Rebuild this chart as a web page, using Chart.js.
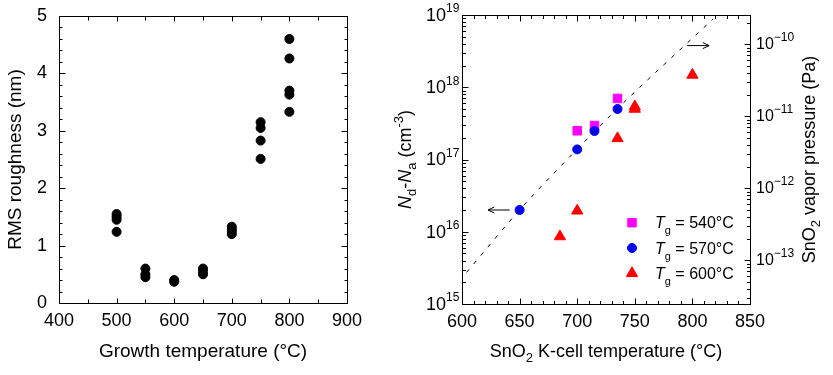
<!DOCTYPE html>
<html>
<head>
<meta charset="utf-8">
<script src="https://cdn.jsdelivr.net/npm/chart.js@4.4.1/dist/chart.umd.min.js"></script>
<style>
  html, body { margin: 0; padding: 0; background: #fff; }
  #wrap { position: relative; width: 833px; height: 375px; }
  canvas { position: absolute; top: 0; }
  #left { left: 0; }
  #right { left: 380px; }
</style>
</head>
<body>
<div id="wrap">
  <canvas id="left" width="380" height="375"></canvas>
  <canvas id="right" width="453" height="375"></canvas>
</div>
<script>
const FONT = "'Liberation Sans', Arial, Helvetica, sans-serif";
Chart.defaults.font.family = FONT;
Chart.defaults.color = '#000';

// left panel: RMS roughness vs growth temperature
const growthTemps  = [500, 500, 500, 500, 550, 550, 550, 600, 600, 650, 650, 650,
                      700, 700, 700, 700, 750, 750, 750, 750, 800, 800, 800, 800, 800];
const rmsRoughness = [1.55, 1.5, 1.45, 1.24, 0.6, 0.5, 0.45, 0.4, 0.37, 0.6, 0.55, 0.5,
                      1.33, 1.28, 1.25, 1.2, 3.15, 3.05, 2.83, 2.51, 4.6, 4.26, 3.7, 3.63, 3.33];
const growthTempTicks = [400, 500, 600, 700, 800, 900];
const roughnessTicks  = [0, 1, 2, 3, 4, 5];

// right panel: carrier density vs SnO2 K-cell temperature
const seriesTg = [540, 570, 600];
const cellTemp540 = [700, 715, 735];
const carrier540  = [2.5e17, 2.95e17, 7.0e17];
const cellTemp570 = [650, 700, 715, 735];
const carrier570  = [2.0e16, 1.38e17, 2.48e17, 5.0e17];
const cellTemp600 = [685, 700, 735, 750, 750, 800];
const carrier600  = [8.6e15, 1.95e16, 1.96e17, 5.0e17, 5.4e17, 1.48e18];
// SnO2 vapour pressure (right axis)
const vaporTemps    = [604, 650, 700, 735, 818];
const vaporPressure = [6.8e-14, 5.0e-13, 3.5e-12, 1.28e-11, 2.25e-10];
const cellTempTicks     = [600, 650, 700, 750, 800, 850];
const carrierExponents  = [15, 16, 17, 18, 19];
const pressureExponents = [-13, -12, -11, -10];

const pts = (xs, ys) => xs.map((x, i) => ({ x: x, y: ys[i] }));

function richText(ctx, parts, x, y, opts) {
  ctx.save();
  ctx.translate(x, y);
  if (opts.rotate) ctx.rotate(opts.rotate);
  const fontOf = p => (p.italic ? 'italic ' : '') + p.size + 'px ' + FONT;
  let w = 0;
  parts.forEach(p => { ctx.font = fontOf(p); p.w = ctx.measureText(p.t).width; w += p.w; });
  let cx = opts.align === 'center' ? -w / 2 : (opts.align === 'right' ? -w : 0);
  ctx.fillStyle = '#000';
  ctx.textAlign = 'left';
  ctx.textBaseline = opts.baseline || 'alphabetic';
  parts.forEach(p => { ctx.font = fontOf(p); ctx.fillText(p.t, cx, p.dy || 0); cx += p.w; });
  ctx.restore();
}

function decadeTicks(exps, min, max) {
  const out = [];
  for (let e = exps[0] - 1; e <= exps[exps.length - 1]; e++) {
    for (let m = 1; m <= 9; m++) {
      const v = m * Math.pow(10, e);
      if (v >= min * 0.999 && v <= max * 1.001) out.push({ value: v, major: m === 1 });
    }
  }
  return out;
}

const markMajor = list => s => { s.ticks.forEach(t => { t.major = list.includes(t.value); }); };

// frame and inward tick marks
const frameTicks = {
  id: 'frameTicks',
  beforeDatasetsDraw(chart, args, opts) {
    const ctx = chart.ctx, a = chart.chartArea;
    const L = Math.round(a.left) + 0.5, R = Math.round(a.right) + 0.5;
    const T = Math.round(a.top) + 0.5, B = Math.round(a.bottom) + 0.5;
    ctx.save();
    ctx.strokeStyle = '#000';
    ctx.lineWidth = 1;
    ctx.strokeRect(L, T, R - L, B - T);
    ctx.beginPath();
    opts.axes.forEach(ax => {
      const s = chart.scales[ax.id];
      s.ticks.forEach(t => {
        const len = t.major ? ax.major : ax.minor;
        if (s.isHorizontal()) {
          const x = Math.round(s.getPixelForValue(t.value)) + 0.5;
          ctx.moveTo(x, B); ctx.lineTo(x, B - len);
          if (ax.mirror) { ctx.moveTo(x, T); ctx.lineTo(x, T + len); }
        } else {
          const y = Math.round(s.getPixelForValue(t.value)) + 0.5;
          if (s.position === 'right') {
            ctx.moveTo(R, y); ctx.lineTo(R - len, y);
          } else {
            ctx.moveTo(L, y); ctx.lineTo(L + len, y);
            if (ax.mirror) { ctx.moveTo(R, y); ctx.lineTo(R - len, y); }
          }
        }
      });
    });
    ctx.stroke();
    ctx.restore();
  }
};

const arrowHeads = {
  id: 'arrowHeads',
  afterDatasetsDraw(chart) {
    const ctx = chart.ctx;
    chart.data.datasets.forEach((ds, i) => {
      if (!ds.arrowHead) return;
      const p = chart.getDatasetMeta(i).data;
      const a = p[p.length - 2], b = p[p.length - 1];
      const ang = Math.atan2(b.y - a.y, b.x - a.x);
      ctx.save();
      ctx.strokeStyle = '#000';
      ctx.lineWidth = 1;
      ctx.beginPath();
      [-1, 1].forEach(sg => {
        ctx.moveTo(b.x, b.y);
        ctx.lineTo(b.x - 7 * Math.cos(ang + sg * 0.45), b.y - 7 * Math.sin(ang + sg * 0.45));
      });
      ctx.stroke();
      ctx.restore();
    });
  }
};

// log-axis labels with superscripts, axis titles, legend
const rightText = {
  id: 'rightText',
  afterDraw(chart) {
    const ctx = chart.ctx, a = chart.chartArea;
    const sy = chart.scales.y, sy2 = chart.scales.y2;
    sy.ticks.forEach(t => {
      const e = Math.round(Math.log10(t.value));
      if (!t.major || !carrierExponents.includes(e)) return;
      const y = sy.getPixelForValue(t.value);
      richText(ctx, [{ t: '10', size: 18 }], a.left - 16, y + 1, { align: 'right', baseline: 'middle' });
      richText(ctx, [{ t: String(e), size: 12 }], a.left - 16, y - 6, { align: 'left', baseline: 'middle' });
    });
    sy2.ticks.forEach(t => {
      const e = Math.round(Math.log10(t.value));
      if (!t.major || !pressureExponents.includes(e)) return;
      const y = sy2.getPixelForValue(t.value);
      ctx.save(); ctx.font = '16px ' + FONT; const w = ctx.measureText('10').width; ctx.restore();
      richText(ctx, [{ t: '10', size: 16 }], a.right + 6, y, { align: 'left', baseline: 'middle' });
      richText(ctx, [{ t: String(e).replace('-', '\u2212'), size: 12 }], a.right + 6 + w, y - 6.5, { align: 'left', baseline: 'middle' });
    });
    const midY = (a.top + a.bottom) / 2;
    richText(ctx, [
      { t: 'SnO', size: 18 }, { t: '2', size: 13, dy: 5 },
      { t: ' K-cell temperature (\u00b0C)', size: 18 }
    ], (a.left + a.right) / 2, 357, { align: 'center' });
    richText(ctx, [
      { t: 'N', size: 18, italic: true }, { t: 'd', size: 13, dy: 5 }, { t: '-', size: 18 },
      { t: 'N', size: 18, italic: true }, { t: 'a', size: 13, dy: 5 }, { t: ' (cm', size: 18 },
      { t: '-3', size: 13, dy: -8 }, { t: ')', size: 18 }
    ], 31, midY, { align: 'center', rotate: -Math.PI / 2 });
    richText(ctx, [
      { t: 'SnO', size: 18 }, { t: '2', size: 13, dy: 5 }, { t: ' vapor pressure (Pa)', size: 18 }
    ], 435, midY, { align: 'center', rotate: -Math.PI / 2 });
    // legend
    [3, 2, 4].forEach((di, k) => {
      const ds = chart.data.datasets[di];
      const y = 222.7 + k * 25.3;
      ctx.save();
      ctx.fillStyle = ds.backgroundColor;
      ctx.strokeStyle = ds.borderColor;
      ctx.lineWidth = 1;
      Chart.helpers.drawPoint(ctx, { pointStyle: ds.pointStyle, radius: ds.pointRadius, rotation: 0, borderWidth: 1 }, 252, y);
      ctx.restore();
      richText(ctx, [
        { t: 'T', size: 16, italic: true }, { t: 'g', size: 11, dy: 6 },
        { t: ' = ' + seriesTg[k] + '\u00b0C', size: 16 }
      ], 275, y + 5.7, { align: 'left' });
    });
  }
};

new Chart(document.getElementById('left'), {
  type: 'scatter',
  data: {
    datasets: [{
      data: pts(growthTemps, rmsRoughness),
      backgroundColor: '#000', borderColor: '#000', borderWidth: 1,
      pointRadius: 4.5, pointHoverRadius: 4.5
    }]
  },
  options: {
    responsive: false, animation: false, events: [],
    layout: { padding: { left: 0, right: 33, top: 16, bottom: 12 } },
    plugins: {
      legend: { display: false }, tooltip: { enabled: false },
      frameTicks: { axes: [
        { id: 'x', major: 5, minor: 4, mirror: true },
        { id: 'y', major: 6, minor: 3, mirror: true }
      ] }
    },
    scales: {
      x: {
        type: 'linear', min: 400, max: 900,
        grid: { display: false }, border: { display: false },
        ticks: { stepSize: 50, autoSkip: false, maxRotation: 0, padding: -1, font: { size: 18 },
                 callback: v => growthTempTicks.includes(v) ? String(v) : '' },
        afterBuildTicks: markMajor(growthTempTicks),
        title: { display: true, text: 'Growth temperature (\u00b0C)', font: { size: 19 }, padding: 0 },
        afterFit: s => { s.height = 60; }
      },
      y: {
        type: 'linear', min: 0, max: 5,
        grid: { display: false }, border: { display: false },
        ticks: { stepSize: 0.2, autoSkip: false, padding: 4, font: { size: 18 },
                 callback: v => roughnessTicks.includes(v) ? String(v) : '' },
        afterBuildTicks: markMajor(roughnessTicks),
        title: { display: true, text: 'RMS roughness (nm)', font: { size: 19 }, padding: { top: 4.5, bottom: 0 } },
        afterFit: s => { s.width = 59; }
      }
    }
  },
  plugins: [frameTicks]
});

new Chart(document.getElementById('right'), {
  type: 'scatter',
  data: {
    datasets: [
      { data: pts(vaporTemps, vaporPressure), yAxisID: 'y2', showLine: true,
        borderColor: '#000', borderWidth: 1, borderDash: [4, 7], pointRadius: 0,
        cubicInterpolationMode: 'monotone' },
      { data: pts([641.4, 622.6], [2e16, 2e16]), yAxisID: 'y', showLine: true, arrowHead: true,
        borderColor: '#000', borderWidth: 1, pointRadius: 0 },
      { data: pts(cellTemp570, carrier570), yAxisID: 'y', pointStyle: 'circle',
        backgroundColor: '#0000ff', borderColor: '#0000ff', borderWidth: 1, pointRadius: 4.5, pointHoverRadius: 4.5 },
      { data: pts(cellTemp540, carrier540), yAxisID: 'y', pointStyle: 'rect',
        backgroundColor: '#ff00ff', borderColor: '#ff00ff', borderWidth: 1, pointRadius: 6, pointHoverRadius: 6 },
      { data: pts(cellTemp600, carrier600), yAxisID: 'y', pointStyle: 'triangle',
        backgroundColor: '#ff0000', borderColor: '#ff0000', borderWidth: 1, pointRadius: 6.5, pointHoverRadius: 6.5 },
      { data: pts([795.4, 814.5], [9.6e-11, 9.6e-11]), yAxisID: 'y2', showLine: true, arrowHead: true,
        borderColor: '#000', borderWidth: 1, pointRadius: 0 }
    ]
  },
  options: {
    responsive: false, animation: false, events: [],
    layout: { padding: { left: 0, right: 0, top: 15, bottom: 12 } },
    plugins: {
      legend: { display: false }, tooltip: { enabled: false },
      frameTicks: { axes: [
        { id: 'x', major: 6, minor: 3.5, mirror: true },
        { id: 'y', major: 6, minor: 3.5 },
        { id: 'y2', major: 6, minor: 3.5 }
      ] }
    },
    scales: {
      x: {
        type: 'linear', min: 600, max: 850,
        grid: { display: false }, border: { display: false },
        ticks: { stepSize: 10, autoSkip: false, maxRotation: 0, padding: -1, font: { size: 18 },
                 callback: v => cellTempTicks.includes(v) ? String(v) : '' },
        afterBuildTicks: markMajor(cellTempTicks),
        afterFit: s => { s.height = 59; }
      },
      y: {
        type: 'logarithmic', position: 'left', min: 1e15, max: 1e19,
        grid: { display: false }, border: { display: false },
        ticks: { display: false },
        afterBuildTicks: s => { s.ticks = decadeTicks(carrierExponents, s.min, s.max); },
        afterFit: s => { s.width = 82; }
      },
      y2: {
        type: 'logarithmic', position: 'right', min: Math.pow(10, -13.607), max: Math.pow(10, -9.593),
        grid: { display: false }, border: { display: false },
        ticks: { display: false },
        afterBuildTicks: s => { s.ticks = decadeTicks(pressureExponents, s.min, s.max); },
        afterFit: s => { s.width = 83; }
      }
    }
  },
  plugins: [frameTicks, arrowHeads, rightText]
});
</script>
</body>
</html>
